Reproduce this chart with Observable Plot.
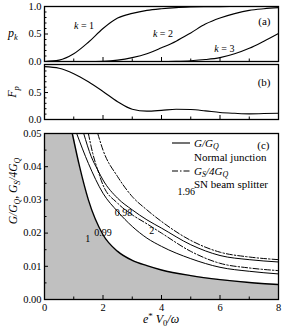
<!DOCTYPE html>
<html><head><meta charset="utf-8">
<script src="https://cdn.jsdelivr.net/npm/d3@7"></script>
<script src="https://cdn.jsdelivr.net/npm/@observablehq/plot@0.6"></script>
<style>
body{margin:0;background:#fff}
#c{position:relative;width:283px;height:330px;font-family:"Liberation Serif",serif;overflow:hidden}
#c svg{position:absolute;left:0;overflow:visible;background:none}
</style></head><body><div id="c"></div>
<script>
// ---- panel (a): p_k ----
const pX = [0,0.5,1,1.5,2,2.5,3,3.5,4,4.5,5,5.5,6,6.5,7,7.5,8];
const p1 = [0,0.025,0.14,0.35,0.6,0.79,0.875,0.93,0.96,0.98,0.99,0.995,0.998,0.999,1,1,1];
const p2 = [0,0,0,0,0.005,0.025,0.07,0.14,0.25,0.37,0.52,0.68,0.79,0.87,0.93,0.96,0.98];
const p3 = [0,0,0,0,0,0,0,0,0,0.005,0.015,0.035,0.07,0.14,0.24,0.37,0.51];
// ---- panel (b): F_p ----
const fP = [0.98,0.95,0.85,0.7,0.52,0.33,0.19,0.155,0.17,0.19,0.185,0.16,0.13,0.115,0.105,0.11,0.115];
// ---- panel (c) ----
const c1X = [0.95,1.2,1.5,2,2.5,3,3.5,4,5,6,7,8];
const c1Y = [0.05,0.04,0.03,0.0195,0.0145,0.0118,0.0102,0.0089,0.0072,0.006,0.0051,0.0045];
const s99X = [1.1,1.5,2,2.5,3,3.5,4,5,6,7,8];
const s99Y = [0.05,0.041,0.032,0.0265,0.022,0.0185,0.016,0.0123,0.0097,0.0085,0.0077];
const s98X = [1.34,1.6,1.82,2,2.5,3,3.5,4,5,6,7,8];
const s98Y = [0.05,0.043,0.039,0.036,0.0305,0.027,0.024,0.0215,0.0165,0.01325,0.012,0.0113];
const d2X = [1.5,1.65,1.82,2,2.5,3,3.5,4,5,6,7,8];
const d2Y = [0.05,0.044,0.039,0.0345,0.029,0.0255,0.0228,0.02,0.0145,0.0109,0.0095,0.0087];
const d196X = [1.82,2,2.5,3,3.5,4,5,6,7,8];
const d196Y = [0.05,0.045,0.037,0.031,0.027,0.0235,0.0178,0.01425,0.0128,0.012];
const curveLabels = [{x:1.48,y:0.0184,t:"1"},{x:2.0,y:0.0202,t:"0.99"},{x:2.7,y:0.0262,t:"0.98"},{x:3.67,y:0.0207,t:"2"},{x:4.85,y:0.0325,t:"1.96"}];
const kLabels = [{x:1.35,y:0.655,t:"k = 1"},{x:4.05,y:0.51,t:"k = 2"},{x:6.15,y:0.236,t:"k = 3"}];
const xMajor = [0,2,4,6,8];
const xMinor = [1,3,5,7];

const W = 283, ML = 44, MR = 5;
const FONT = {fontFamily:"Liberation Serif, serif", fontSize:10.5};
const mk = (xs, ys) => xs.map((x,i)=>({x, y: ys[i]}));
const host = document.getElementById("c");
const CURVE = "monotone-x";

function axes(yMajor, yMinor, yFmt, showX) {
  return [
    Plot.axisX(xMajor, {tickSize:-4, tickFormat:()=>"", stroke:"black", label:null}),
    Plot.axisX(xMinor, {tickSize:-2.5, tickFormat:()=>"", stroke:"black", label:null}),
    showX ? Plot.axisX(xMajor, {tickSize:0, tickPadding:4, tickFormat:d3.format("d"), ...FONT, fill:"black", label:null}) : null,
    Plot.axisY(yMajor, {tickSize:-4, tickFormat:()=>"", stroke:"black", label:null}),
    Plot.axisY(yMinor, {tickSize:-2.5, tickFormat:()=>"", stroke:"black", label:null}),
    Plot.axisY(yMajor, {tickSize:0, tickPadding:3, tickFormat:yFmt, ...FONT, fill:"black", label:null}),
    Plot.frame({stroke:"black", strokeWidth:1.3})
  ];
}
function place(svg, top){ svg.style.top = top+"px"; host.appendChild(svg); return svg; }

// panel a
const a = Plot.plot({
  width:W, height:64, marginTop:6, marginBottom:3, marginLeft:ML, marginRight:MR,
  x:{domain:[0,8], axis:null}, y:{domain:[0,1], axis:null},
  style:{background:"none", fontFamily:"Liberation Serif, serif"},
  marks:[
    ...axes([0,0.5,1],[0.1,0.2,0.3,0.4,0.6,0.7,0.8,0.9], d3.format(".1f"), false),
    Plot.line(mk(pX,p1), {x:"x", y:"y", curve:CURVE, stroke:"black", strokeWidth:1.1}),
    Plot.line(mk(pX,p2), {x:"x", y:"y", curve:CURVE, stroke:"black", strokeWidth:1.1}),
    Plot.line(mk(pX,p3), {x:"x", y:"y", curve:CURVE, stroke:"black", strokeWidth:1.1}),
    Plot.text(kLabels, {x:"x", y:"y", text:"t", ...FONT, fontSize:10, fill:"black", textAnchor:"middle"}),
    Plot.text(["(a)"], {frameAnchor:"top-right", dx:-8, dy:11, ...FONT, fontSize:11, fill:"black"})
  ]
});
place(a, 0);

// panel b
const b = Plot.plot({
  width:W, height:58, marginTop:2, marginBottom:1, marginLeft:ML, marginRight:MR,
  x:{domain:[0,8], axis:null}, y:{domain:[0,1.02], axis:null},
  style:{background:"none"},
  marks:[
    ...axes([0,0.5],[0.1,0.2,0.3,0.4,0.6,0.7,0.8,0.9], d3.format(".1f"), false),
    Plot.line(mk(pX,fP), {x:"x", y:"y", curve:CURVE, stroke:"black", strokeWidth:1.1}),
    Plot.text(["(b)"], {frameAnchor:"top-right", dx:-8, dy:14, ...FONT, fontSize:11, fill:"black"})
  ]
});
place(b, 62);

// panel c
const top05 = 0.05;
const fillData = [{x:0,y:top05}, ...mk(c1X,c1Y)];
const c = Plot.plot({
  width:W, height:208, marginTop:11, marginBottom:31, marginLeft:ML, marginRight:MR,
  x:{domain:[0,8], axis:null}, y:{domain:[0,0.05], axis:null},
  style:{background:"none"},
  marks:[
    Plot.areaY(fillData, {x:"x", y:"y", curve:CURVE, fill:"#c0c0c0", clip:true}),
    Plot.line(mk(c1X,c1Y), {x:"x", y:"y", curve:CURVE, stroke:"black", strokeWidth:1.4, clip:true}),
    Plot.line(mk(s99X,s99Y), {x:"x", y:"y", curve:CURVE, stroke:"black", strokeWidth:1, clip:true}),
    Plot.line(mk(s98X,s98Y), {x:"x", y:"y", curve:CURVE, stroke:"black", strokeWidth:1, clip:true}),
    Plot.line(mk(d2X,d2Y), {x:"x", y:"y", curve:CURVE, stroke:"black", strokeWidth:1, strokeDasharray:"6,2,1.5,2", clip:true}),
    Plot.line(mk(d196X,d196Y), {x:"x", y:"y", curve:CURVE, stroke:"black", strokeWidth:1, strokeDasharray:"6,2,1.5,2", clip:true}),
    ...axes([0,0.01,0.02,0.03,0.04,0.05],[0.005,0.015,0.025,0.035,0.045], d3.format(".2f"), true),
    Plot.text(curveLabels, {x:"x", y:"y", text:"t", ...FONT, fontSize:10, fill:"black", textAnchor:"middle"}),
    Plot.text(["(c)"], {frameAnchor:"top-right", dx:-9, dy:8, ...FONT, fontSize:11, fill:"black"})
  ]
});
place(c, 122);

// italic k labels
d3.select(a).selectAll("text").each(function(){
  const t = this.textContent;
  if (t.startsWith("k =")) {
    const n = t.slice(4);
    d3.select(this).text(null);
    d3.select(this).append("tspan").attr("font-style","italic").text("k");
    d3.select(this).append("tspan").text(" = " + n);
  }
});

// overlay svg for axis titles & legend
const ov = d3.select(host).append("svg").attr("width",W).attr("height",330).style("top","0px")
  .attr("font-family","Liberation Serif, serif").attr("fill","black");
// p_k
const tpk = ov.append("text").attr("x",13).attr("y",37).attr("text-anchor","middle").attr("font-size",12).attr("font-style","italic");
tpk.append("tspan").text("p");
tpk.append("tspan").attr("font-size",8.5).attr("dy",2.5).text("k");
// F_p
const tfp = ov.append("text").attr("transform","translate(16,92) rotate(-90)").attr("text-anchor","middle").attr("font-size",12).attr("font-style","italic");
tfp.append("tspan").text("F");
tfp.append("tspan").attr("font-size",8.5).attr("dy",2.5).text("p");
// panel c y label
const tc = ov.append("text").attr("transform","translate(17,191) rotate(-90)").attr("text-anchor","middle").attr("font-size",11.5).attr("font-style","italic");
tc.append("tspan").text("G/G");
tc.append("tspan").attr("font-size",8).attr("dy",2.5).text("Q");
tc.append("tspan").attr("dy",-2.5).attr("font-style","normal").text(", ");
tc.append("tspan").text("G");
tc.append("tspan").attr("font-size",8).attr("dy",2.5).text("S");
tc.append("tspan").attr("dy",-2.5).text("/4G");
tc.append("tspan").attr("font-size",8).attr("dy",2.5).text("Q");
// x label
const tx = ov.append("text").attr("x",161).attr("y",323).attr("text-anchor","middle").attr("font-size",12);
tx.append("tspan").attr("font-style","italic").text("e");
tx.append("tspan").attr("font-size",9).attr("dy",-4).text("*");
tx.append("tspan").attr("dy",4).attr("font-style","italic").text(" V");
tx.append("tspan").attr("font-size",8.5).attr("dy",2.5).text("0");
tx.append("tspan").attr("dy",-2.5).attr("font-style","italic").text("/ω");
// legend
ov.append("line").attr("x1",172).attr("x2",190).attr("y1",143).attr("y2",143).attr("stroke","black").attr("stroke-width",1.1);
const l1 = ov.append("text").attr("x",194).attr("y",146.5).attr("font-size",11).attr("font-style","italic");
l1.append("tspan").text("G/G"); l1.append("tspan").attr("font-size",8).attr("dy",2).text("Q");
ov.append("text").attr("x",194).attr("y",161).attr("font-size",11).text("Normal junction");
ov.append("line").attr("x1",172).attr("x2",190).attr("y1",171).attr("y2",171).attr("stroke","black").attr("stroke-width",1.1).attr("stroke-dasharray","6,2,1.5,2");
const l2 = ov.append("text").attr("x",194).attr("y",174.5).attr("font-size",11).attr("font-style","italic");
l2.append("tspan").text("G"); l2.append("tspan").attr("font-size",8).attr("dy",2).text("S");
l2.append("tspan").attr("dy",-2).text("/4G"); l2.append("tspan").attr("font-size",8).attr("dy",2).text("Q");
ov.append("text").attr("x",194).attr("y",187.5).attr("font-size",11).text("SN beam splitter");
</script></body></html>
